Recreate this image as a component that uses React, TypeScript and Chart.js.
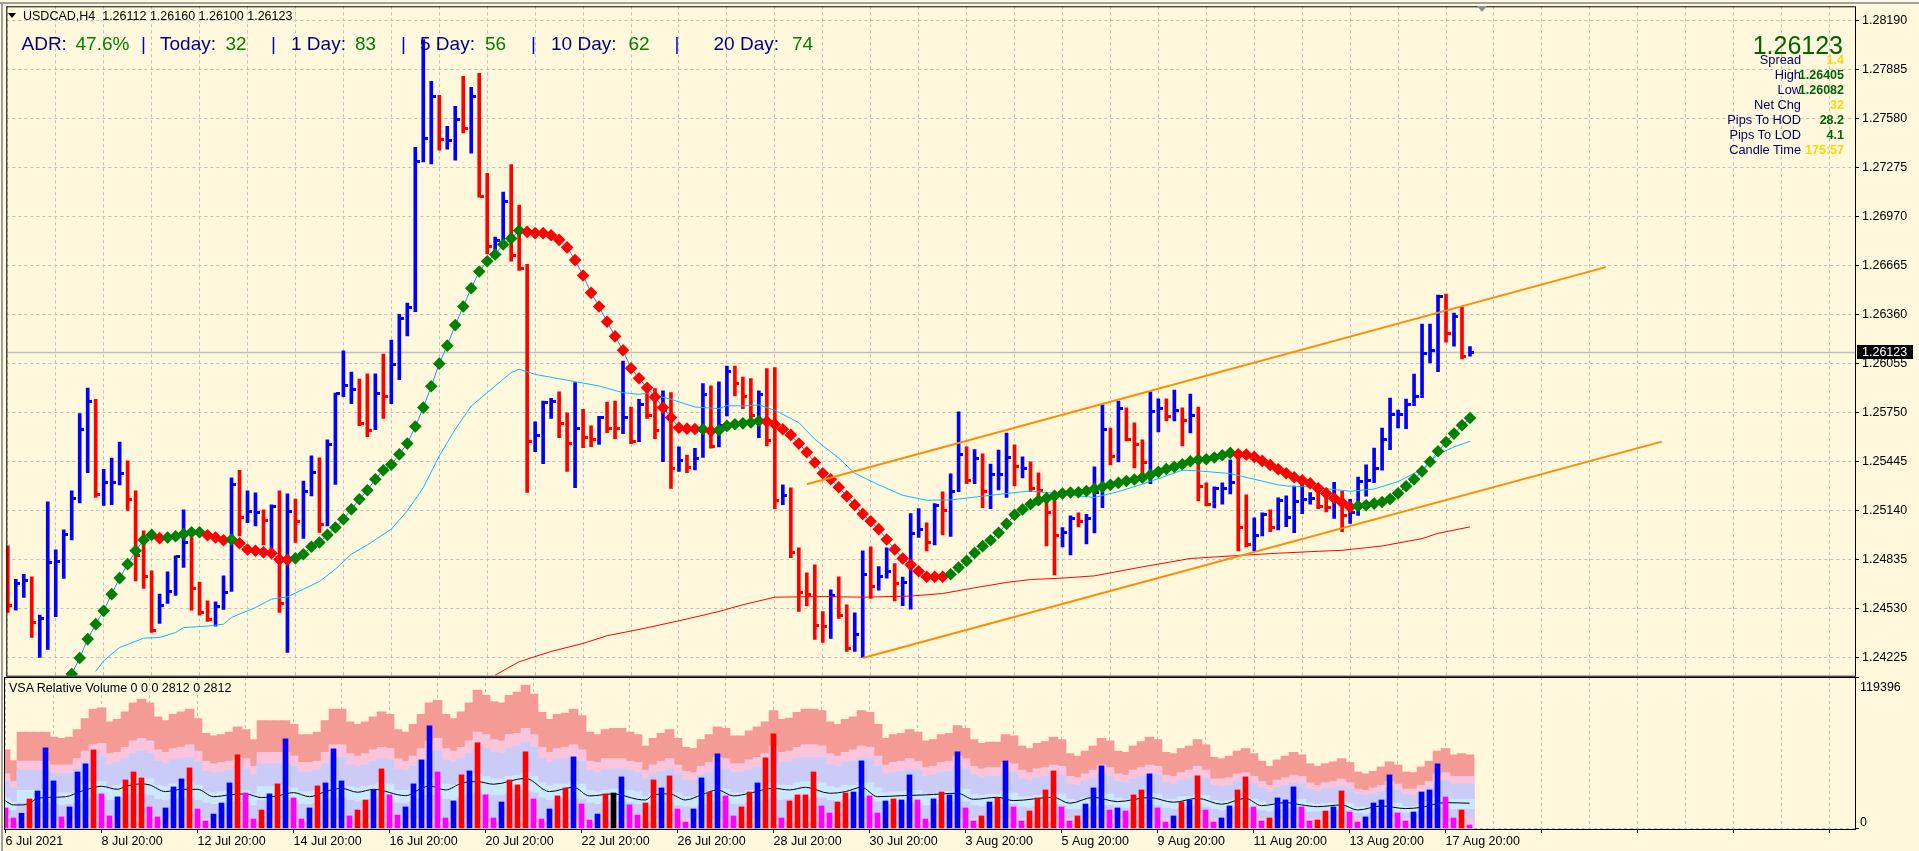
import { useEffect, useRef } from "react"
import { Chart, registerables } from "chart.js"

Chart.register(...registerables)

const BG = "#FFF8DC"
const GRID = "#C0C0C0"
const BLUE = "#0000FF"
const RED = "#FF0000"
const FONT = "'Liberation Sans', Arial, sans-serif"

// USDCAD H4 bars
const highs = [
  1.24918,1.24710,1.24741,1.24725,1.24486,1.25192,1.24893,1.25017,1.25260,1.25742,
  1.25901,1.25831,1.25395,1.25464,1.25565,1.25447,1.25260,1.25011,1.24762,1.24617,
  1.24756,1.24856,1.25142,1.24970,1.24692,1.24575,1.24569,1.24731,1.25341,1.25389,
  1.25260,1.25248,1.25142,1.25173,1.25260,1.25242,1.25210,1.25322,1.25478,1.25466,
  1.25578,1.25870,1.26132,1.26001,1.25957,1.25989,1.25989,1.26113,1.26200,1.26360,
  1.26430,1.27401,1.28071,1.27812,1.27725,1.27532,1.27656,1.27843,1.27775,1.27862,
  1.27239,1.26841,1.27121,1.27293,1.27040,1.26671,1.25690,1.25820,1.25837,1.25877,
  1.25746,1.25935,1.25769,1.25665,1.25725,1.25814,1.25820,1.26069,1.25783,1.25831,
  1.25924,1.25897,1.25883,1.25872,1.25534,1.25484,1.25526,1.25928,1.25914,1.25939,
  1.26038,1.26038,1.25970,1.25960,1.25883,1.26022,1.26028,1.25298,1.25279,1.24905,
  1.24750,1.24800,1.24509,1.24644,1.24725,1.24551,1.24501,1.24887,1.24912,1.24789,
  1.24905,1.24808,1.24723,1.25119,1.25150,1.25061,1.25181,1.25254,1.25366,1.25752,
  1.25534,1.25518,1.25491,1.25428,1.25515,1.25621,1.25547,1.25472,1.25441,1.25372,
  1.25229,1.25198,1.25032,1.25105,1.25123,1.25115,1.25410,1.25796,1.25652,1.25820,
  1.25777,1.25684,1.25578,1.25877,1.25833,1.25833,1.25889,1.25777,1.25864,1.25783,
  1.25310,1.25285,1.25310,1.25453,1.25472,1.25235,1.25092,1.25123,1.25142,1.25217,
  1.25229,1.25291,1.25301,1.25249,1.25280,1.25276,1.25314,1.25260,1.25208,1.25347,
  1.25422,1.25527,1.25652,1.25839,1.25764,1.25832,1.25988,1.26299,1.26299,1.26480,
  1.26486,1.26368,1.26405,1.26160,
]
const lows = [
  1.24503,1.24517,1.24596,1.24347,1.24223,1.24273,1.24476,1.24715,1.24955,1.25186,
  1.25374,1.25219,1.25169,1.25175,1.25298,1.25138,1.24700,1.24652,1.24378,1.24434,
  1.24559,1.24609,1.24783,1.24517,1.24486,1.24447,1.24418,1.24522,1.24634,1.24980,
  1.25063,1.25042,1.24924,1.24897,1.24503,1.24254,1.24939,1.24964,1.25229,1.25001,
  1.25042,1.25300,1.25847,1.25804,1.25667,1.25598,1.25642,1.25711,1.25804,1.25953,
  1.26225,1.26376,1.27310,1.27297,1.27382,1.27389,1.27320,1.27490,1.27364,1.27090,
  1.26737,1.26733,1.26774,1.26691,1.26633,1.25250,1.25505,1.25430,1.25711,1.25592,
  1.25381,1.25281,1.25530,1.25536,1.25549,1.25623,1.25586,1.25617,1.25555,1.25567,
  1.25711,1.25586,1.25443,1.25275,1.25381,1.25374,1.25391,1.25468,1.25526,1.25534,
  1.25727,1.25852,1.25773,1.25717,1.25592,1.25540,1.25150,1.25175,1.24845,1.24509,
  1.24544,1.24335,1.24316,1.24341,1.24466,1.24260,1.24260,1.24223,1.24590,1.24642,
  1.24717,1.24575,1.24546,1.24524,1.24970,1.24887,1.24924,1.24986,1.24976,1.25256,
  1.25306,1.25306,1.25156,1.25150,1.25266,1.25219,1.25291,1.25341,1.25256,1.25173,
  1.24918,1.24737,1.24912,1.24862,1.25038,1.24930,1.24999,1.25156,1.25422,1.25441,
  1.25571,1.25403,1.25364,1.25306,1.25628,1.25696,1.25696,1.25540,1.25621,1.25198,
  1.25167,1.25154,1.25177,1.25242,1.24887,1.24912,1.24887,1.24980,1.25007,1.25017,
  1.25038,1.25000,1.25119,1.25177,1.25150,1.25129,1.25088,1.25007,1.25058,1.25108,
  1.25227,1.25312,1.25390,1.25517,1.25652,1.25648,1.25791,1.25841,1.26057,1.26003,
  1.26187,1.26162,1.26082,1.26100,
]
const closes = [
  1.24544,1.24683,1.24704,1.24441,1.24466,1.24814,1.24820,1.24986,1.25210,1.25642,
  1.25820,1.25235,1.25312,1.25312,1.25370,1.25204,1.24856,1.24727,1.24389,1.24544,
  1.24634,1.24849,1.24939,1.24652,1.24503,1.24461,1.24542,1.24627,1.25300,1.25094,
  1.25132,1.25127,1.25073,1.25163,1.24559,1.25132,1.25069,1.25258,1.25372,1.25049,
  1.25547,1.25868,1.25914,1.25891,1.25677,1.25638,1.25866,1.25847,1.26045,1.26333,
  1.26401,1.27314,1.27453,1.27714,1.27449,1.27443,1.27573,1.27515,1.27714,1.27096,
  1.26785,1.26820,1.27061,1.26729,1.26644,1.25571,1.25603,1.25810,1.25820,1.25679,
  1.25555,1.25646,1.25592,1.25582,1.25715,1.25648,1.25648,1.25717,1.25567,1.25800,
  1.25727,1.25638,1.25758,1.25401,1.25447,1.25405,1.25464,1.25862,1.25536,1.25665,
  1.26001,1.25930,1.25847,1.25727,1.25862,1.25576,1.25198,1.25233,1.24876,1.24627,
  1.24617,1.24420,1.24416,1.24607,1.24482,1.24281,1.24368,1.24737,1.24663,1.24727,
  1.24758,1.24683,1.24690,1.24995,1.25022,1.24939,1.25167,1.25136,1.25256,1.25484,
  1.25322,1.25459,1.25256,1.25360,1.25360,1.25468,1.25410,1.25401,1.25277,1.25264,
  1.25125,1.24984,1.25001,1.25088,1.25069,1.25090,1.25250,1.25644,1.25472,1.25773,
  1.25582,1.25551,1.25437,1.25752,1.25773,1.25721,1.25762,1.25696,1.25733,1.25285,
  1.25177,1.25277,1.25277,1.25312,1.25032,1.24924,1.24980,1.25111,1.25032,1.25198,
  1.25094,1.25193,1.25204,1.25214,1.25162,1.25156,1.25193,1.25110,1.25125,1.25318,
  1.25326,1.25401,1.25581,1.25739,1.25737,1.25799,1.25849,1.26115,1.26137,1.26474,
  1.26243,1.26349,1.26100,1.26123,
]
// r = down bar, b = up bar
const barDirs =
  "rbbrbbbbbb" + "brbbbrrrrb" + "bbbrrrbbbr" + "bbrbrbrbbr" + "bbbbrrbrbb" + "bbbbrbbrbr" +
  "rbbrrrbbbr" + "rbrrbrrbrb" + "rrbrbrbbrb" + "brrrbrrbrr" + "rrrbrrbbrb" + "brbbbrbrbb" +
  "rbrbbbrbrr" + "rrbbrbbbrb" + "rrrbbrbrbr" + "rbbbrrbbrb" + "bbbbrrbrbb" + "bbbbbbbbbb" + "rbrb"

// diamond trend line, first value sits on bar 8
const trendStart = 8
const trendValues = [
  1.24119,1.24219,
  1.24337,1.24430,1.24513,1.24617,1.24717,1.24804,1.24887,1.24955,1.24986,1.24966,
  1.24970,1.24978,1.24991,1.25003,1.25003,1.24984,1.24970,1.24953,1.24957,1.24934,
  1.24895,1.24887,1.24878,1.24872,1.24833,1.24831,1.24841,1.24866,1.24912,1.24939,
  1.24986,1.25032,1.25084,1.25146,1.25208,1.25264,1.25333,1.25389,1.25424,1.25488,
  1.25555,1.25661,1.25779,1.25912,1.26053,1.26165,1.26293,1.26409,1.26523,1.26627,
  1.26691,1.26733,1.26795,1.26833,1.26882,1.26874,1.26866,1.26866,1.26853,1.26824,
  1.26777,1.26698,1.26602,1.26494,1.26409,1.26314,1.26223,1.26136,1.26024,1.25962,
  1.25903,1.25845,1.25779,1.25717,1.25654,1.25648,1.25646,1.25644,1.25634,1.25638,
  1.25665,1.25675,1.25681,1.25686,1.25696,1.25692,1.25675,1.25644,1.25609,1.25555,
  1.25501,1.25437,1.25370,1.25333,1.25283,1.25227,1.25173,1.25117,1.25071,1.25022,
  1.24957,1.24895,1.24839,1.24800,1.24760,1.24725,1.24725,1.24725,1.24741,1.24783,
  1.24824,1.24874,1.24916,1.24953,1.24999,1.25055,1.25111,1.25144,1.25177,1.25202,
  1.25215,1.25229,1.25244,1.25250,1.25252,1.25260,1.25273,1.25285,1.25298,1.25310,
  1.25322,1.25331,1.25343,1.25360,1.25379,1.25397,1.25410,1.25426,1.25445,1.25455,
  1.25457,1.25468,1.25482,1.25497,1.25488,1.25486,1.25472,1.25447,1.25422,1.25395,
  1.25370,1.25345,1.25326,1.25307,1.25276,1.25245,1.25214,1.25187,1.25160,1.25166,
  1.25171,1.25181,1.25191,1.25210,1.25245,1.25289,1.25332,1.25382,1.25442,1.25507,
  1.25565,1.25617,1.25669,1.25714,
]
// bar ranges where the trend diamonds are red
const trendRedRuns = [[19, 19], [25, 27], [29, 35], [65, 86], [88, 88], [95, 117], [154, 168]]

// thin moving averages: bar index and price
const skyIdx = [11,12,14,17,19,21,22,25,27,28,31,33,35,37,39,41,43,45,48,50,52,54,56,58,61,63,64,66,71,74,77,79,80,83,86,89,90,92,94,96,99,101,104,106,109,112,115,118,122,125,128,131,136,139,142,145,147,149,153,156,159,160,163,165,168,171,174,177,179,181,183]
const skyVal = [1.24136,1.24202,1.24285,1.24343,1.24347,1.24378,1.24409,1.24418,1.24430,1.24472,1.24534,1.24586,1.24600,1.24648,1.24696,1.24773,1.24866,1.24924,1.25022,1.25136,1.25281,1.25478,1.25644,1.25789,1.25914,1.25997,1.26018,1.25986,1.25941,1.25914,1.25872,1.25862,1.25868,1.25831,1.25783,1.25773,1.25791,1.25789,1.25796,1.25762,1.25686,1.25582,1.25464,1.25370,1.25298,1.25233,1.25202,1.25204,1.25227,1.25244,1.25260,1.25244,1.25219,1.25256,1.25302,1.25354,1.25389,1.25385,1.25368,1.25333,1.25298,1.25291,1.25285,1.25274,1.25258,1.25272,1.25318,1.25395,1.25488,1.25534,1.25569]
const slowIdx = [61,64,68,72,75,79,84,89,92,96,102,107,113,117,120,125,128,132,136,142,148,154,159,164,167,172,177,179,183]
const slowVal = [1.24113,1.24196,1.24260,1.24310,1.24358,1.24397,1.24451,1.24509,1.24551,1.24598,1.24602,1.24598,1.24605,1.24621,1.24648,1.24690,1.24708,1.24717,1.24731,1.24787,1.24839,1.24858,1.24872,1.24884,1.24890,1.24917,1.24963,1.24996,1.25036]

// orange channel lines: [bar, price] ends
const channelUpper = [[100, 1.25302], [200, 1.26654]]
const channelLower = [[107, 1.24219], [207, 1.25567]]

const lastPrice = 1.26123
const priceTicks = [1.2819,1.27885,1.2758,1.27275,1.2697,1.26665,1.2636,1.26055,1.2575,1.25445,1.2514,1.24835,1.2453,1.24225]
const dateTicks = ["6 Jul 2021","8 Jul 20:00","12 Jul 20:00","14 Jul 20:00","16 Jul 20:00","20 Jul 20:00","22 Jul 20:00","26 Jul 20:00","28 Jul 20:00","30 Jul 20:00","3 Aug 20:00","5 Aug 20:00","9 Aug 20:00","11 Aug 20:00","13 Aug 20:00","17 Aug 20:00"]

// volume window, all in thousands
const volumeMax = 119.396
const volumeK = [
  16.1,8.2,11.9,23.2,29.5,63.5,37.4,9.0,16.9,44.5,
  50.9,61.9,27.2,9.8,24.8,38.2,44.5,39.8,16.9,9.0,
  16.1,32.7,39.0,47.7,15.3,5.8,11.3,20.0,35.8,58.0,
  27.9,7.4,14.5,27.2,35.1,70.6,24.0,7.4,16.1,33.5,
  35.8,62.7,37.4,9.8,14.5,22.4,30.3,46.9,26.4,10.5,
  16.9,35.1,54.0,80.9,44.5,8.2,21.6,42.2,45.3,67.5,
  26.4,8.2,20.8,38.2,34.3,60.4,23.2,7.4,15.3,25.6,
  31.9,56.4,19.2,6.6,11.3,27.2,27.9,40.6,18.5,10.5,
  20.0,38.2,31.9,41.4,15.3,5.0,15.3,39.8,28.7,58.8,
  25.6,9.8,16.9,28.7,35.8,55.6,74.6,8.2,21.6,26.4,
  26.4,44.5,17.7,12.1,20.8,27.9,28.7,53.2,25.6,12.1,
  21.6,23.2,22.4,42.2,22.4,7.4,23.2,28.7,26.4,60.4,
  16.1,5.8,9.8,20.8,24.0,53.2,16.9,5.8,13.7,24.0,
  30.3,45.3,16.9,5.8,9.8,19.2,31.9,49.3,14.5,16.1,
  13.7,26.4,30.3,43.0,16.1,5.0,9.8,20.8,22.4,41.4,
  14.5,5.0,8.2,17.7,30.3,40.6,16.9,5.8,8.2,24.0,
  22.4,32.7,16.9,5.8,6.6,13.7,16.9,29.5,12.9,5.0,
  9.0,20.0,22.4,42.2,12.1,5.8,12.9,28.7,30.3,50.9,
  24.8,8.2,14.5,2.6,
]
// m = magenta, b = blue, r = red, k = black
const volumeKinds =
  "mmbrbbbmbb" + "brmmbrrrmm" + "bbbrmmbbbr" + "mmrbrbmmbr" + "bbbmrrbrmm" + "bbbbmmbrbr" +
  "mmbrrrmmbr" + "rbmmbrkbmm" + "rrbrmmbbrb" + "mmrrbrrmrr" + "rrmmrrbbmm" + "brbbmmbrbb" +
  "mmrbrbmmrr" + "rrmmrbbbmb" + "mrrbmmbrbr" + "mmbbrrmmrb" + "bbmmrrbrmm" + "bbbbmmbbbb" + "mmrm"

const bandSalmon = [
  62,53.5,76,76,76,76,72,71,72,78, 86.5,94,95,84,86,92,99,102,99,88,
  85,90,92,94,86.5,75,73,74,76,80, 78,70,85,85,85,85,82,74,74,76,
  85,94,94,84,82,84,88,92,90,78, 76,82,90,99,101,90,86.5,92,99,109,
  105,100,99,105,107.5,113,106,91.5,86,90, 91,94,89,76,74,78,79,79,76,74,
  65,71,75,78,71,64,63,70,74,80, 79,73,73,77,80,84,93,86,87,91.5,
  94,94,93,84,82,86,88,93,91.5,82, 71,74,75,78,76,69,70,74,75,81,
  79,70,67,68,68,74,73,65,63,67, 68.5,72,70,59,57,61,65,71,69,61,
  60,65,68.5,72,70,60,59,63,65,70, 66,56,55,57,61,63,59,53,49,54,
  57,60,58,51,49,51,52.5,55,52,44.5, 43,45,48.5,52.5,50,44.5,44,48.5,53,61,
  63,58,59,58,
]
const bandPink = [
  43,37,53,53,53,53,50,50,50,55, 61,66,67,59,60,64,69,71,69,62,
  60,63,64,66,61,53,51,52,53,56, 55,49,60,60,60,60,57,52,52,53,
  60,66,66,59,57,59,62,64,63,55, 53,57,63,69,71,63,61,64,69,76,
  74,70,69,74,75,79,74,64,60,63, 64,66,62,53,52,55,55,55,53,52,
  46,50,53,55,50,45,44,49,52,56, 55,51,51,54,56,59,65,60,61,64,
  66,66,65,59,57,60,62,65,64,57, 50,52,53,55,53,48,49,52,53,57,
  55,49,47,48,48,52,51,46,44,47, 48,50,49,41,40,43,46,50,48,43,
  42,46,48,50,49,42,41,44,46,49, 46,39,39,40,43,44,41,37,34,38,
  40,42,41,36,34,36,37,39,36,31, 30,32,34,37,35,31,31,34,37,43,
  44,41,41,41,
]
const bandLavender = [
  37,32,46,46,46,46,43,43,43,47, 52,56,57,50,52,55,59,61,59,53,
  51,54,55,56,52,45,44,44,46,48, 47,42,51,51,51,51,49,44,44,46,
  51,56,56,50,49,50,53,55,54,47, 46,49,54,59,61,54,52,55,59,65,
  63,60,59,63,65,68,64,55,52,54, 55,56,53,46,44,47,47,47,46,44,
  39,43,45,47,43,38,38,42,44,48, 47,44,44,46,48,50,56,52,52,55,
  56,56,56,50,49,52,53,56,55,49, 43,44,45,47,46,41,42,44,45,49,
  47,42,40,41,41,44,44,39,38,40, 41,43,42,35,34,37,39,43,41,37,
  36,39,41,43,42,36,35,38,39,42, 40,34,33,34,37,38,35,32,29,32,
  34,36,35,31,29,31,32,33,31,27, 26,27,29,32,30,27,26,29,32,37,
  38,35,35,35,
]
const bandSky = [
  24,21,30,30,30,30,28,28,28,30, 34,37,37,33,34,36,39,40,39,34,
  33,35,36,37,34,29,28,29,30,31, 30,27,33,33,33,33,32,29,29,30,
  33,37,37,33,32,33,34,36,35,30, 30,32,35,39,39,35,34,36,39,43,
  41,39,39,41,42,44,41,36,34,35, 35,37,35,30,29,30,31,31,30,29,
  25,28,29,30,28,25,25,27,29,31, 31,28,28,30,31,33,36,34,34,36,
  37,37,36,33,32,34,34,36,36,32, 28,29,29,30,30,27,27,29,29,32,
  31,27,26,27,27,29,28,25,25,26, 27,28,27,23,22,24,25,28,27,24,
  23,25,27,28,27,23,23,25,25,27, 26,22,21,22,24,25,23,21,19,21,
  22,23,23,20,19,20,20,21,20,17, 17,18,19,20,20,17,17,19,21,24,
  25,23,23,23,
]
const bandLower = [
  16,14,20,20,20,20,19,18,19,20, 22,24,25,22,22,24,26,27,26,23,
  22,23,24,24,22,20,19,19,20,21, 20,18,22,22,22,22,21,19,19,20,
  22,24,24,22,21,22,23,24,23,20, 20,21,23,26,26,23,22,24,26,28,
  27,26,26,27,28,29,28,24,22,23, 24,24,23,20,19,20,21,21,20,19,
  17,18,20,20,18,17,16,18,19,21, 21,19,19,20,21,22,24,22,23,24,
  24,24,24,22,21,22,23,24,24,21, 18,19,20,20,20,18,18,19,20,21,
  21,18,17,18,18,19,19,17,16,17, 18,19,18,15,15,16,17,18,18,16,
  16,17,18,19,18,16,15,16,17,18, 17,15,14,15,16,16,15,14,13,14,
  15,16,15,13,13,13,14,14,14,12, 11,12,13,14,13,12,11,13,14,16,
  16,15,15,15,
]
const bandBase = 8
const volumeMaIdx = [0,1,2,3,4,6,8,9,10,12,14,15,17,18,20,22,24,26,28,30,32,34,36,38,40,42,44,46,50,52,53,55,57,59,61,65,68,71,73,76,79,80,81,83,85,87,89,91,93,96,98,100,103,105,107,109,112,115,119,121,124,126,131,133,136,139,143,146,149,152,155,157,160,162,164,167,169,172,175,177,180,183]
const volumeMaVal = [21.6,18.5,18.5,19.8,23.7,24.5,25.6,28.2,30.3,33.2,30.8,33,35.1,34.3,29,30.8,30.8,25,26.4,27.2,24.3,25.6,28.2,25,29,31.6,28.5,30.8,25.8,31.6,33.5,30.3,35.6,36.9,34.8,39.5,29,32.4,25.6,27.2,22.9,22.4,26.4,27.2,22.4,26.4,30.3,25.6,27.7,31.6,30.3,32.4,27.7,29,32.4,25,25.8,26.4,27.7,22.9,24.5,21.9,24.5,19.8,24.5,21.1,24.3,20.6,23.7,19,23.7,17.9,20.3,18.5,17.1,18.5,14.5,17.7,15.6,16.6,20.3,19.8]

const hudRows = [
  ["Spread", "1.4", "#FFD700"],
  ["High", "1.26405", "#006400"],
  ["Low", "1.26082", "#006400"],
  ["Net Chg", "32", "#FFD700"],
  ["Pips To HOD", "28.2", "#006400"],
  ["Pips To LOD", "4.1", "#006400"],
  ["Candle Time", "175:57", "#FFD700"],
]
const adrParts = [
  ["ADR:", 21.5, "#000080"], ["47.6%", 75.5, "#008000"], ["|", 141, "#0000CD"],
  ["Today:", 160, "#000080"], ["32", 225.5, "#008000"], ["|", 271, "#0000CD"],
  ["1 Day:", 291, "#000080"], ["83", 355, "#008000"], ["|", 401, "#0000CD"],
  ["5 Day:", 420, "#000080"], ["56", 485, "#008000"], ["|", 531, "#0000CD"],
  ["10 Day:", 551, "#000080"], ["62", 628.5, "#008000"], ["|", 674.5, "#0000CD"],
  ["20 Day:", 713.5, "#000080"], ["74", 792, "#008000"],
]

const bars = highs.map((_, i) => i)
const xMin = -0.1875
const xMax = 231.1875

function tickImage(color: string) {
  // close tick, sticks out to the right of the stem only
  const c = document.createElement("canvas")
  c.width = 11
  c.height = 3
  const g = c.getContext("2d")!
  g.fillStyle = color
  g.fillRect(6, 0, 4, 3)
  return c
}

const pairs = (idx: number[], val: number[]) => idx.map((x, i) => ({ x, y: val[i] }))

const band = (values: number[], color: string, order: number) => ({
  type: "bar",
  data: values.map((y, x) => ({ x, y })),
  backgroundColor: color,
  barThickness: 9,
  grouped: false,
  order,
})

const frame = {
  id: "frame",
  afterDraw(chart: any) {
    const { left, top, width, height } = chart.chartArea
    const ctx = chart.ctx
    ctx.save()
    ctx.strokeStyle = "#000000"
    ctx.lineWidth = 1
    ctx.strokeRect(left + 0.5, top + 0.5, width, height)
    ctx.restore()
  },
}

const priceTag = {
  id: "priceTag",
  beforeDatasetsDraw(chart: any) {
    chart.ctx.imageSmoothingEnabled = false
  },
  afterDraw(chart: any) {
    const ctx = chart.ctx
    const y = Math.round(chart.scales.y.getPixelForValue(lastPrice))
    ctx.save()
    ctx.fillStyle = "#000000"
    ctx.fillRect(1857, y - 7, 56, 14)
    ctx.fillStyle = "#FFFFFF"
    ctx.font = "12.5px " + FONT
    ctx.textBaseline = "middle"
    ctx.fillText(lastPrice.toFixed(5), 1862, y + 0.5)
    ctx.restore()
  },
}

function Label({ x, y, right, color = "#000", size = 12.5, bold, children }: any) {
  return (
    <div
      style={{
        position: "absolute",
        ...(right ? { right: 1919 - x } : { left: x }),
        top: y,
        transform: "translateY(-50%)",
        color,
        font: `${bold ? "bold " : ""}${size}px/1 ${FONT}`,
        whiteSpace: "pre",
      }}
    >
      {children}
    </div>
  )
}

export default function App() {
  const priceRef = useRef<HTMLCanvasElement | null>(null)
  const volumeRef = useRef<HTMLCanvasElement | null>(null)

  useEffect(() => {
    document.body.style.margin = "0"
    document.body.style.background = BG
    document.body.style.overflow = "hidden"
    if (!priceRef.current || !volumeRef.current) return

    const closeSet = (dir: string, color: string) => ({
      type: "line",
      showLine: false,
      data: bars.filter((i) => barDirs[i] === dir).map((i) => ({ x: i, y: closes[i] })),
      pointStyle: tickImage(color),
      pointRadius: 3,
      order: 8,
    })

    const priceChart = new Chart(priceRef.current, {
      type: "bar",
      plugins: [frame, priceTag],
      data: {
        datasets: [
          {
            type: "line",
            data: [{ x: xMin, y: lastPrice }, { x: xMax, y: lastPrice }],
            borderColor: GRID,
            borderWidth: 1.5,
            pointRadius: 0,
            order: 12,
          },
          {
            type: "bar",
            data: bars.map((i) => ({ x: i, y: [lows[i], highs[i]] })),
            backgroundColor: bars.map((i) => (barDirs[i] === "r" ? RED : BLUE)),
            barThickness: 3,
            grouped: false,
            order: 9,
          },
          closeSet("r", RED),
          closeSet("b", BLUE),
          {
            type: "line",
            data: pairs(skyIdx, skyVal),
            borderColor: "#00BFFF",
            borderWidth: 1,
            pointRadius: 0,
            order: 7,
          },
          {
            type: "line",
            data: pairs(slowIdx, slowVal),
            borderColor: RED,
            borderWidth: 1,
            pointRadius: 0,
            order: 7,
          },
          {
            type: "line",
            data: trendValues.map((y, i) => ({ x: i + trendStart, y })),
            borderColor: "#1E90FF",
            borderWidth: 1,
            pointRadius: 0,
            order: 6,
          },
          {
            type: "line",
            showLine: false,
            data: trendValues.map((y, i) => ({ x: i + trendStart, y })),
            pointStyle: "rectRot",
            pointRadius: 6.3,
            pointBorderWidth: 0,
            pointBackgroundColor: trendValues.map((_, i) =>
              trendRedRuns.some(([a, b]) => i + trendStart >= a && i + trendStart <= b) ? RED : "#008000"
            ),
            order: 5,
          },
          ...[channelUpper, channelLower].map((line) => ({
            type: "line",
            data: line.map(([x, y]) => ({ x, y })),
            borderColor: "#FF8C00",
            borderWidth: 2,
            pointRadius: 0,
            order: 4,
          })),
        ],
      },
      options: {
        animation: false,
        responsive: false,
        devicePixelRatio: 1,
        layout: { padding: { left: 4, top: 5, right: 0, bottom: 0 } },
        plugins: { legend: { display: false }, tooltip: { enabled: false } },
        scales: {
          x: {
            type: "linear",
            offset: false,
            min: xMin,
            max: xMax,
            afterFit: (s: any) => { s.height = 2; s.paddingLeft = 0; s.paddingRight = 0 },
            border: { display: false, dash: [3, 3] },
            grid: { color: GRID, drawTicks: false, offset: false },
            ticks: { display: false, stepSize: 6, includeBounds: false, autoSkip: false },
          },
          y: {
            position: "right",
            min: 1.24109,
            max: 1.28279,
            afterBuildTicks: (s: any) => { s.ticks = priceTicks.map((value) => ({ value })) },
            afterFit: (s: any) => { s.width = 64; s.paddingTop = 0; s.paddingBottom = 0 },
            border: { display: false, dash: [3, 3] },
            grid: { color: GRID, tickLength: 4, tickColor: "#000000" },
            ticks: {
              color: "#000000",
              padding: 3,
              font: { family: FONT, size: 12.5 },
              callback: (v: any) => Number(v).toFixed(5),
            },
          },
        },
      },
    } as any)

    const volumeChart = new Chart(volumeRef.current, {
      type: "bar",
      plugins: [frame],
      data: {
        datasets: [
          band(bandSalmon, "#F59B96", 20),
          band(bandPink, "#FAC5DC", 19),
          band(bandLavender, "#CBCBF8", 18),
          band(bandSky, "#CCE8FF", 17),
          band(bandLower, "#CBCBF8", 16),
          {
            type: "line",
            data: [{ x: -0.5, y: bandBase }, { x: 183.5, y: bandBase }],
            backgroundColor: "#FAC5DC",
            borderWidth: 0,
            fill: "origin",
            pointRadius: 0,
            order: 15,
          },
          {
            type: "line",
            data: pairs(volumeMaIdx, volumeMaVal),
            borderColor: "#000000",
            borderWidth: 1,
            cubicInterpolationMode: "monotone",
            pointRadius: 0,
            order: 3,
          },
          {
            type: "bar",
            data: volumeK.map((y, x) => ({ x, y })),
            backgroundColor: bars.map((i) => ({ m: "#FF00FF", b: BLUE, r: RED, k: "#000000" } as any)[volumeKinds[i]]),
            barThickness: 5,
            grouped: false,
            order: 1,
          },
        ],
      },
      options: {
        animation: false,
        responsive: false,
        devicePixelRatio: 1,
        layout: { padding: { left: 4, top: 1, right: 0, bottom: 0 } },
        plugins: { legend: { display: false }, tooltip: { enabled: false } },
        scales: {
          x: {
            type: "linear",
            offset: false,
            min: xMin,
            max: xMax,
            afterFit: (s: any) => { s.height = 22; s.paddingLeft = 0; s.paddingRight = 0 },
            border: { display: false, dash: [3, 3] },
            grid: {
              color: GRID,
              offset: false,
              tickLength: 4,
              tickColor: (c: any) => (c.tick && c.tick.value % 12 === 0 ? "#000000" : "rgba(0,0,0,0)"),
            },
            ticks: {
              stepSize: 6,
              includeBounds: false,
              autoSkip: false,
              maxRotation: 0,
              align: "start",
              padding: 1,
              color: "#000000",
              font: { family: FONT, size: 12.5 },
              callback: (v: any) => (v % 12 === 0 ? dateTicks[v / 12] ?? "" : ""),
            },
          },
          y: {
            position: "right",
            min: -0.5,
            max: volumeMax,
            afterBuildTicks: (s: any) => { s.ticks = [{ value: 0 }, { value: volumeMax }] },
            afterFit: (s: any) => { s.width = 64; s.paddingTop = 0; s.paddingBottom = 0 },
            border: { display: false, dash: [3, 3] },
            grid: { color: GRID, tickLength: 4, tickColor: "#000000" },
            ticks: { display: false },
          },
        },
      },
    } as any)

    return () => {
      priceChart.destroy()
      volumeChart.destroy()
    }
  }, [])

  return (
    <div style={{ position: "absolute", left: 0, top: 0, width: 1919, height: 851, background: BG, overflow: "hidden" }}>
      <canvas ref={priceRef} width={1919} height={682} style={{ position: "absolute", left: 0, top: 0 }} />
      <canvas ref={volumeRef} width={1919} height={175} style={{ position: "absolute", left: 0, top: 676 }} />

      {/* window edge */}
      <div style={{ position: "absolute", left: 0, top: 2, width: 1919, height: 2, background: "#A0A0A0" }} />
      <div style={{ position: "absolute", left: 1, top: 2, width: 2, height: 849, background: "#A0A0A0" }} />
      <div style={{ position: "absolute", left: 1477, top: 6, width: 0, height: 0, borderLeft: "5px solid transparent", borderRight: "5px solid transparent", borderTop: "6px solid #909090" }} />

      {/* chart title */}
      <div style={{ position: "absolute", left: 8, top: 13, width: 0, height: 0, borderLeft: "4.5px solid transparent", borderRight: "4.5px solid transparent", borderTop: "5px solid #000" }} />
      <Label x={23} y={16}>{"USDCAD,H4  1.26112 1.26160 1.26100 1.26123"}</Label>

      {adrParts.map(([text, x, color]: any) => (
        <Label key={text + x} x={x} y={43} size={19} color={color}>{text}</Label>
      ))}

      <Label x={1843} y={45} right size={25} color="#006400">1.26123</Label>
      {hudRows.map(([name, value, color], i) => (
        <div key={name}>
          <Label x={1801} y={59.5 + i * 15} right size={12.8} color="#000060">{name}</Label>
          <Label x={1844} y={59.5 + i * 15} right size={12.5} bold color={color}>{value}</Label>
        </div>
      ))}

      <Label x={9} y={688}>VSA Relative Volume 0 0 0 2812 0 2812</Label>
      <Label x={1860} y={687}>119396</Label>
      <Label x={1860} y={822}>0</Label>
    </div>
  )
}
